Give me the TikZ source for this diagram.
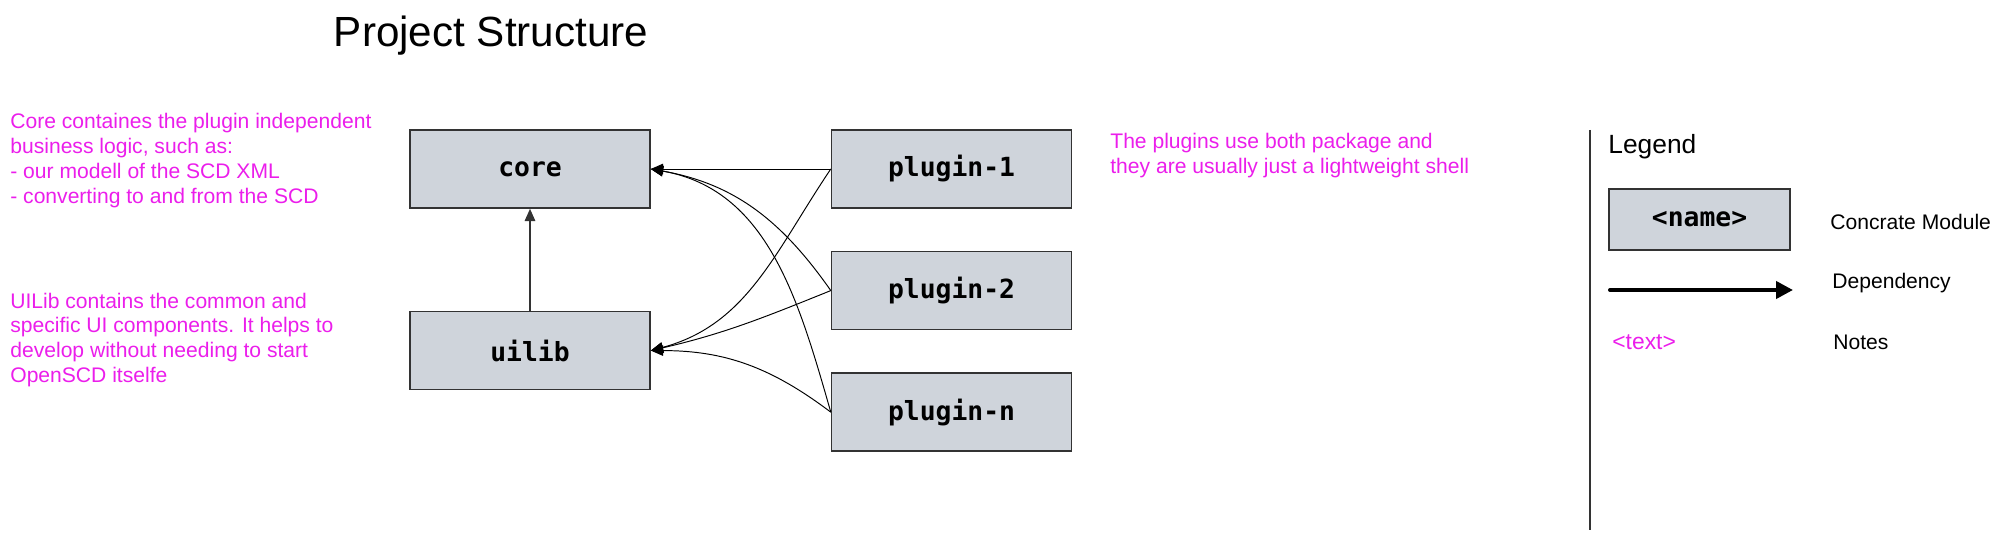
\documentclass[tikz,border=0pt]{standalone}
\usepackage{fontspec}
\setmainfont{Liberation Sans}
\setmonofont{DejaVu Sans Mono}
\usepackage{tikz}
\usetikzlibrary{positioning,calc,arrows.meta}
\usepackage{xcolor}
\definecolor{notecol}{RGB}{235,30,235}
\definecolor{boxfill}{HTML}{CFD4DB}
\definecolor{boxline}{HTML}{333333}

\begin{document}
\begin{tikzpicture}[
        module/.style={draw=boxline, fill=boxfill, line width=0.9pt, minimum width=4.8cm, minimum height=1.56cm, inner sep=0pt, font=\fontsize{15}{18}\selectfont\ttfamily\bfseries},
        note/.style={text=notecol, align=left, anchor=west, inner sep=0pt, font=\fontsize{12}{14.2}\selectfont},
        plain/.style={anchor=west, inner sep=0pt, font=\fontsize{12}{14.2}\selectfont},
        dep/.style={-{Triangle[length=7pt,width=6pt]}, line width=0.55pt},
        node distance=2.04cm and 3.6cm]
                \useasboundingbox (0,0) rectangle (40.1,-10.8);
                \node[font=\fontsize{24}{28}\selectfont] (title) at (9.82,-0.72) {Project Structure};
                \node[module] (core) at (10.6,-3.38) {core};
                \node[module, below=of core] (uilib) {uilib};
                \node[module, right=of core] (plugin1) {plugin-1};
                \node[module, below=0.84cm of plugin1] (plugin2) {plugin-2};
                \node[module, below=0.84cm of plugin2] (pluginn) {plugin-n};
                \draw[dep, boxline, line width=0.85pt] (uilib.north) -- (core.south);
                \draw[dep] (plugin1.west) -- (core.east);
                \draw[dep] (plugin1.west) to[out=236,in=15] (uilib.east);
                \draw[dep] (plugin2.west) to[out=125,in=350] (core.east);
                \draw[dep] (plugin2.west) to[out=202,in=13] (uilib.east);
                \draw[dep] (pluginn.west) to[out=106,in=350] (core.east);
                \draw[dep] (pluginn.west) to[out=143,in=0] (uilib.east);
                \node[note] (corenote) at (0.2,-3.21) {Core containes the plugin independent\\business logic, such as:\\- our modell of the SCD XML\\- converting to and from the SCD};
                \node[note] (uilibnote) at (0.2,-6.8) {UILib contains the common and\\specific UI components. It helps to\\develop without needing to start\\OpenSCD itselfe};
                \node[note] (pluginnote) at (22.2,-3.12) {The plugins use both package and\\they are usually just a lightweight shell};
                \draw[boxline, line width=0.9pt] (31.8,-2.6) -- (31.8,-10.6);
                \node[plain, font=\fontsize{15}{18}\selectfont] (legend) at (32.16,-2.94) {Legend};
                \node[module, minimum width=3.62cm, minimum height=1.22cm] (legendbox) at (33.99,-4.39) {<name>};
                \node[plain] (moduletext) at (36.6,-4.44) {Concrate Module};
                \coordinate (depstart) at (32.2,-5.8);
                \coordinate (depend) at (35.86,-5.8);
                \draw[line width=2.3pt, line cap=round, -{Triangle[length=0.34cm,width=0.34cm]}] (depstart) -- (depend);
                \node[plain] (deptext) at (36.64,-5.66) {Dependency};
                \node[note, font=\fontsize{13}{15}\selectfont] (notesample) at (32.24,-6.84) {<text>};
                \node[plain] (notestext) at (36.66,-6.84) {Notes};
            \end{tikzpicture}
\end{document}
